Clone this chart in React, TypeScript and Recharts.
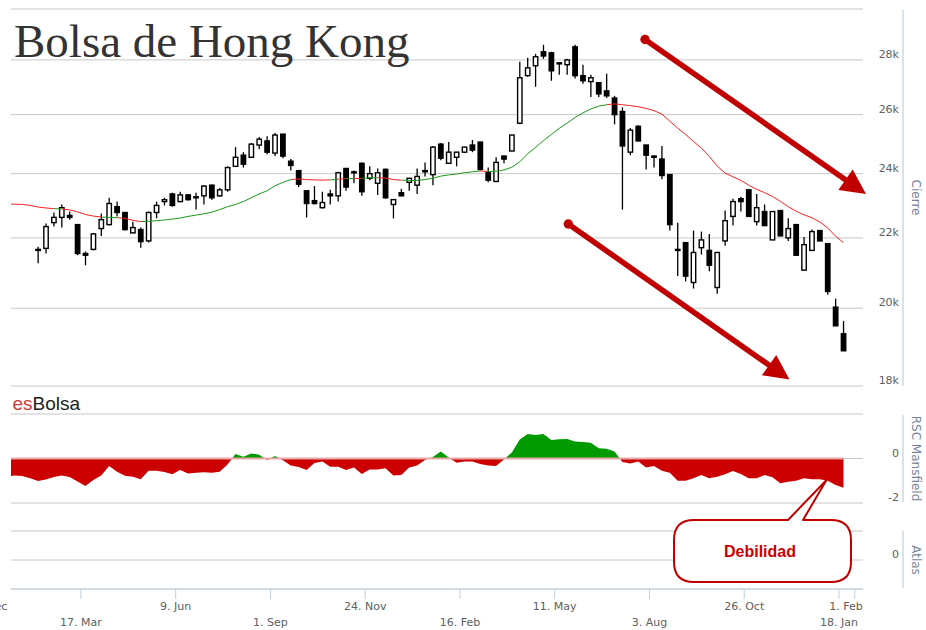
import React from 'react';
import { ComposedChart, Bar, Line, Area, XAxis, YAxis, CartesianGrid, ReferenceLine } from 'recharts';

const DAY = 86400000;
const WEEK = 7 * DAY;

// weekly candles dated on the Friday close; the first one is 7 Feb 2014
const firstCandle = Date.UTC(2014, 1, 7);
// indicator values exist for a few weeks before the first visible candle
const preWeeks = 4;

const opens = [
  21660, 21690, 22460, 22620, 22680, 22400, 21540, 21660, 22280, 22400,
  22950, 22770, 22150, 22250, 21910, 22770, 23110, 23350, 23110, 23320,
  23230, 23290, 23630, 23290, 23480, 24240, 24610, 24540, 24950, 25090,
  24680, 25320, 24410, 24100, 23450, 23140, 22920, 23350, 23290, 24170,
  24060, 24340, 23850, 23690, 24140, 23020, 23390, 23720, 23630, 24060,
  23970, 24980, 24340, 24540, 24710, 24950, 25050, 24030, 23750, 24580,
  24750, 25700, 27410, 27780, 28310, 28270, 27890, 27820, 28500, 27410,
  27190, 27150, 26850, 26590, 26110, 24710, 25590, 24950, 24580, 24480,
  23970, 21660, 21860, 20710, 21710, 21630, 20570, 21910, 22650, 23200,
  23480, 22490, 22800, 21940, 22830, 22000, 22400, 21060, 21630, 22220,
  21830, 20030, 19320,
];
const highs = [
  21740, 22430, 22770, 23020, 22800, 22420, 21600, 22150, 22740, 23230,
  23110, 22780, 22490, 22310, 22800, 23110, 23230, 23390, 23420, 23350,
  23390, 23630, 23640, 23540, 24240, 24880, 24710, 25020, 25220, 25250,
  25360, 25330, 24480, 24110, 23460, 23600, 23420, 23480, 24060, 24180,
  24100, 24370, 24240, 24170, 24170, 23180, 23510, 23860, 24170, 24370,
  24920, 25020, 25050, 24720, 24890, 25120, 25060, 24200, 24540, 24610,
  25300, 27930, 28080, 28230, 28580, 28310, 27900, 28040, 28580, 27820,
  27440, 27160, 27480, 26670, 26260, 25530, 25630, 24960, 24610, 24920,
  23980, 22460, 21870, 22220, 22190, 22120, 21580, 22830, 23200, 23260,
  23490, 23350, 23020, 22810, 22840, 22590, 22410, 22030, 22250, 22230,
  21840, 20260, 19660,
];
const lows = [
  21260, 21540, 22340, 22310, 22550, 21490, 21200, 21630, 22060, 22370,
  22650, 22220, 22140, 21710, 21860, 22590, 22990, 22950, 23090, 23140,
  22860, 23020, 23170, 23260, 23420, 24220, 24200, 24530, 24810, 24640,
  24580, 24510, 24100, 23570, 22620, 23020, 22890, 23020, 23110, 23450,
  23690, 23290, 23790, 23320, 23200, 22590, 23280, 23450, 23350, 23910,
  23630, 24440, 24330, 24240, 24680, 24710, 24100, 23720, 23720, 24340,
  24740, 25660, 27370, 27000, 28040, 27220, 27440, 27440, 27300, 27110,
  26630, 26630, 26590, 25660, 22860, 24610, 25080, 24140, 24200, 23820,
  22220, 20890, 20740, 20540, 21510, 21030, 20400, 21770, 22370, 22800,
  22640, 22370, 22360, 21940, 22060, 21910, 21480, 21050, 21620, 21910,
  20370, 19530, 18880,
];
const closes = [
  21630, 22340, 22620, 22920, 22620, 21540, 21490, 22120, 22550, 23050,
  22770, 22250, 22310, 21890, 22770, 22990, 23170, 22990, 23320, 23170,
  23260, 23600, 23230, 23480, 24200, 24540, 24310, 24980, 25150, 24710,
  25290, 24580, 24270, 23660, 23050, 23050, 23080, 23290, 24030, 23570,
  24030, 23420, 24000, 24030, 23230, 23170, 23290, 23850, 23910, 24100,
  24880, 24510, 24710, 24710, 24880, 24780, 24140, 23790, 24370, 24480,
  25290, 27330, 27700, 28120, 28150, 27590, 27850, 28000, 27410, 27220,
  27330, 26740, 26670, 26000, 24920, 25460, 25090, 24610, 24540, 23940,
  22400, 21630, 20890, 21570, 21940, 21200, 21570, 22520, 23110, 23110,
  22650, 22920, 22370, 22800, 22060, 22280, 21490, 21800, 22190, 21910,
  20460, 19530, 18880,
];

// moving average of the close
const maPre = [23030, 23030, 23020, 22990];
const ma = [
  22940, 22910, 22890, 22880, 22850, 22790, 22710, 22660, 22630, 22620,
  22610, 22590, 22530, 22490, 22500, 22520, 22540, 22570, 22600, 22650,
  22690, 22730, 22780, 22860, 22950, 23020, 23110, 23230, 23350, 23450,
  23610, 23720, 23810, 23830, 23810, 23800, 23790, 23800, 23820, 23840,
  23840, 23850, 23870, 23870, 23860, 23810, 23790, 23780, 23780, 23810,
  23850, 23920, 23960, 23990, 24030, 24060, 24090, 24070, 24080, 24120,
  24210, 24390, 24660, 24870, 25100, 25310, 25520, 25700, 25900, 26060,
  26200, 26300, 26350, 26380, 26350, 26320, 26280, 26220, 26140, 26020,
  25770, 25530, 25310, 25070, 24850, 24570, 24250, 24020, 23900, 23780,
  23630, 23500, 23390, 23270, 23120, 22950, 22810, 22700, 22610, 22480,
  22300, 22050, 21860,
];

// RSC Mansfield
const rscPre = [-0.83, -0.76, -0.79, -0.89];
const rsc = [
  -1.01, -0.94, -0.83, -0.76, -0.83, -1.03, -1.24, -0.97, -0.76, -0.34,
  -0.59, -0.77, -0.82, -0.93, -0.55, -0.55, -0.61, -0.71, -0.52, -0.67,
  -0.64, -0.62, -0.64, -0.59, -0.27, 0.2, 0.08, 0.23, 0.17, -0.07,
  0.11, -0.08, -0.31, -0.38, -0.52, -0.2, -0.13, -0.37, -0.37, -0.52,
  -0.4, -0.7, -0.49, -0.49, -0.44, -0.76, -0.74, -0.4, -0.31, -0.07,
  0.07, 0.31, 0.04, -0.19, -0.14, -0.14, -0.25, -0.31, -0.34, -0.04,
  0.27, 0.85, 1.1, 1.06, 1.1, 0.83, 0.86, 0.88, 0.76, 0.74,
  0.71, 0.46, 0.44, 0.31, -0.16, -0.22, -0.14, -0.4, -0.34, -0.55,
  -0.64, -1.0, -1.0, -0.89, -0.74, -0.89, -0.82, -0.71, -0.56, -0.7,
  -0.89, -0.89, -0.74, -0.84, -1.11, -1.04, -1.0, -0.89, -0.93, -0.93,
  -1.0, -1.19, -1.31,
];

const xTicks = [
  Date.UTC(2013, 11, 23), Date.UTC(2014, 2, 17), Date.UTC(2014, 5, 9), Date.UTC(2014, 8, 1),
  Date.UTC(2014, 10, 24), Date.UTC(2015, 1, 16), Date.UTC(2015, 4, 11), Date.UTC(2015, 7, 3),
  Date.UTC(2015, 9, 26), Date.UTC(2016, 0, 18), Date.UTC(2016, 1, 1),
];
const monthNames = ['Jan', 'Feb', 'Mar', 'Apr', 'May', 'Jun', 'Jul', 'Aug', 'Sep', 'Oct', 'Nov', 'Dec'];
const priceTicks = [18000, 20000, 22000, 24000, 26000, 28000, 30000];
const rscTicks = [-2, 0, 2];
const atlasTicks = [0];
const xDomain = [Date.UTC(2014, 0, 14), Date.UTC(2016, 1, 8, 7)];

const maAll = [...maPre, ...ma];
const rscAll = [...rscPre, ...rsc];
const rows = maAll.map((m, k) => {
  const i = k - preWeeks;
  const row: any = { t: firstCandle + i * WEEK, ma: m, rsc: rscAll[k] };
  if (i >= 0) {
    row.open = opens[i];
    row.high = highs[i];
    row.low = lows[i];
    row.close = closes[i];
    row.range = [lows[i], highs[i]];
  }
  return row;
});

const tFirst = rows[0].t;
const tLast = rows[rows.length - 1].t;
const frac = (t: number) => (t - tFirst) / (tLast - tFirst);
const maStops: any[] = [];
for (let k = 1; k < rows.length; k++) {
  const i = k - preWeeks;
  const above = i >= 0 && closes[i] > ma[i];
  const c = above ? '#1a9a1a' : '#ff2020';
  maStops.push(<stop key={`a${k}`} offset={frac(rows[k - 1].t)} stopColor={c} />);
  maStops.push(<stop key={`b${k}`} offset={frac(rows[k].t)} stopColor={c} />);
}
const rscMax = Math.max(0, ...rscAll);
const rscMin = Math.min(0, ...rscAll);
const rscOff = rscMax / (rscMax - rscMin);

const AXIS_FONT = 'DejaVu Sans, Verdana, sans-serif';

const Candle = (props: any) => {
  const { x, y, width, height, payload } = props;
  if (!payload || payload.open == null) return <g />;
  const cx = x + width / 2;
  const top = Math.min(y, y + height);
  const bot = Math.max(y, y + height);
  const lh = Math.log(payload.high);
  const ll = Math.log(payload.low);
  const span = lh - ll || 1;
  const py = (v: number) => top + ((lh - Math.log(v)) / span) * (bot - top);
  const yo = py(payload.open);
  const yc = py(payload.close);
  const up = payload.close >= payload.open;
  const bTop = Math.min(yo, yc);
  const bh = Math.max(Math.abs(yo - yc), 1);
  return (
    <g>
      <line x1={cx} x2={cx} y1={top} y2={bot} stroke="#000" strokeWidth={1.3} />
      <rect x={cx - 2.2} y={bTop} width={4.4} height={bh} fill={up ? '#fff' : '#000'} stroke="#000" strokeWidth={1.4} />
    </g>
  );
};

const makeYTick = (hidden: number[], fmt: (v: number) => string) => (props: any) => {
  const { x, y, payload } = props;
  if (hidden.includes(payload.value)) return <g />;
  return (
    <text x={x + 36} y={y - 2} textAnchor="end" fontSize={11} fontFamily={AXIS_FONT} fill="#606060">
      {fmt(payload.value)}
    </text>
  );
};
const priceTick = makeYTick([30000], (v) => `${v / 1000}k`);
const rscTick = makeYTick([2], (v) => `${v}`);
const atlasTick = makeYTick([], (v) => `${v}`);

const axisDecor = (title: string, lineTop: number, lineBottom: number) => (props: any) => {
  const vb = props.viewBox || {};
  const { x, y, height } = vb;
  if (x == null) return null;
  const lx = x + 40;
  return (
    <g>
      <line x1={lx} x2={lx} y1={y + lineTop} y2={y + height - lineBottom} stroke="#C0D0E0" strokeWidth={1.2} />
      <text
        transform={`translate(${x + 53}, ${y + height / 2}) rotate(90)`}
        textAnchor="middle"
        dy="0.35em"
        fontSize={12}
        fontFamily={AXIS_FONT}
        fill="#74849a"
      >
        {title}
      </text>
    </g>
  );
};

const XTick = (props: any) => {
  const { x, y, payload } = props;
  const idx = xTicks.indexOf(payload.value);
  const d = new Date(payload.value);
  const label = `${d.getUTCDate()}. ${monthNames[d.getUTCMonth()]}`;
  const upper = idx % 2 === 0;
  const last = idx === xTicks.length - 1;
  return (
    <text
      x={last ? x + 8 : x}
      y={y + (upper ? 10.5 : 27)}
      textAnchor={last ? 'end' : 'middle'}
      fontSize={11}
      fontFamily={AXIS_FONT}
      fill="#606060"
    >
      {label}
    </text>
  );
};

const Arrow = ({ sx, sy, tx, ty }: { sx: number; sy: number; tx: number; ty: number }) => {
  const dx = tx - sx;
  const dy = ty - sy;
  const len = Math.hypot(dx, dy);
  const ux = dx / len;
  const uy = dy / len;
  const hl = 25;
  const hw = 12.5;
  const bx = tx - ux * hl;
  const by = ty - uy * hl;
  const px = -uy;
  const py = ux;
  return (
    <g>
      <line x1={sx} y1={sy} x2={bx + ux * 3} y2={by + uy * 3} stroke="#C00000" strokeWidth={5.5} />
      <circle cx={sx} cy={sy} r={4.7} fill="#C00000" />
      <polygon points={`${tx},${ty} ${bx + px * hw},${by + py * hw} ${bx - px * hw},${by - py * hw}`} fill="#C00000" />
    </g>
  );
};

const margins = { right: 0, left: 11 };

export default function App() {
  return (
    <div style={{ position: 'absolute', left: 0, top: 0, width: 926, height: 630, background: '#fff', overflow: 'hidden' }}>
      <svg width={0} height={0} style={{ position: 'absolute' }}>
        <defs>
          <linearGradient id="maGrad" x1="0" y1="0" x2="1" y2="0">
            {maStops}
          </linearGradient>
          <linearGradient id="rscGrad" x1="0" y1="0" x2="0" y2="1">
            <stop offset={rscOff} stopColor="#009900" />
            <stop offset={rscOff} stopColor="#CC0000" />
          </linearGradient>
        </defs>
      </svg>

      <div style={{ position: 'absolute', left: 0, top: 0 }}>
        <ComposedChart width={926} height={400} data={rows} margin={{ top: 9, bottom: 14, ...margins }}>
          <CartesianGrid vertical={false} stroke="#C8C8C8" yAxisId="p" />
          <XAxis dataKey="t" type="number" domain={xDomain} allowDataOverflow hide />
          <YAxis
            yAxisId="p"
            orientation="right"
            scale="log"
            domain={[18000, 30000]}
            ticks={priceTicks}
            interval={0}
            allowDataOverflow
            width={63}
            axisLine={false}
            tickLine={false}
            tickSize={0}
            tickMargin={0}
            tick={priceTick}
            label={axisDecor('Cierre', 1, 0)}
          />
          <Bar yAxisId="p" dataKey="range" barSize={6} shape={Candle} isAnimationActive={false} />
          <Line
            yAxisId="p"
            dataKey="ma"
            type="linear"
            stroke="url(#maGrad)"
            strokeWidth={1}
            dot={false}
            activeDot={false}
            isAnimationActive={false}
          />
        </ComposedChart>
      </div>

      <div style={{ position: 'absolute', left: 0, top: 400 }}>
        <ComposedChart width={926} height={110} data={rows} margin={{ top: 14, bottom: 7, ...margins }}>
          <CartesianGrid vertical={false} stroke="#C8C8C8" yAxisId="r" />
          <XAxis dataKey="t" type="number" domain={xDomain} allowDataOverflow hide />
          <YAxis
            yAxisId="r"
            orientation="right"
            domain={[-2, 2]}
            ticks={rscTicks}
            interval={0}
            allowDataOverflow
            width={63}
            axisLine={false}
            tickLine={false}
            tickSize={0}
            tickMargin={0}
            tick={rscTick}
            label={axisDecor('RSC Mansfield', 1, 1)}
          />
          <Area
            yAxisId="r"
            dataKey="rsc"
            type="linear"
            baseValue={0}
            fill="url(#rscGrad)"
            fillOpacity={1}
            stroke="none"
            dot={false}
            activeDot={false}
            isAnimationActive={false}
          />
          <ReferenceLine
            yAxisId="r"
            segment={[{ x: tFirst, y: 0 }, { x: tLast, y: 0 }]}
            stroke="#E8A8A8"
            strokeWidth={2}
            ifOverflow="hidden"
          />
        </ComposedChart>
      </div>

      <div style={{ position: 'absolute', left: 0, top: 510 }}>
        <ComposedChart width={926} height={120} data={rows} margin={{ top: 21, bottom: 0, ...margins }}>
          <CartesianGrid vertical={false} stroke="#C8C8C8" yAxisId="a" />
          <XAxis
            dataKey="t"
            type="number"
            domain={xDomain}
            allowDataOverflow
            ticks={xTicks}
            interval={0}
            height={41}
            axisLine={{ stroke: '#C0D0E0' }}
            tickLine={{ stroke: '#C0D0E0' }}
            tickSize={10}
            tickMargin={0}
            tick={XTick}
          />
          <YAxis
            yAxisId="a"
            orientation="right"
            domain={[-1, 1]}
            ticks={atlasTicks}
            interval={0}
            allowDataOverflow
            width={63}
            axisLine={false}
            tickLine={false}
            tickSize={0}
            tickMargin={0}
            tick={atlasTick}
            label={axisDecor('Atlas', 0, 1)}
          />
        </ComposedChart>
      </div>

      <svg width={926} height={630} style={{ position: 'absolute', left: 0, top: 0, pointerEvents: 'none' }}>
        <text x={14} y={57} fontFamily="Liberation Serif, Times New Roman, serif" fontSize={47} fill="#333">
          Bolsa de Hong Kong
        </text>
        <text x={12.5} y={409.5} fontFamily="Liberation Sans, Arial, sans-serif" fontSize={19}>
          <tspan fill="#D03A3A">es</tspan>
          <tspan fill="#222">Bolsa</tspan>
        </text>
        <Arrow sx={645} sy={39.5} tx={866} ty={194} />
        <Arrow sx={568.3} sy={224} tx={789.5} ty={379.5} />
        <path
          d="M694,520 L788,520 L826.5,480 L803,520 L831,520 Q851,520 851,540 L851,562 Q851,582 831,582 L694,582 Q674,582 674,562 L674,540 Q674,520 694,520 Z"
          fill="#fff"
          stroke="#C00000"
          strokeWidth={2}
          strokeLinejoin="round"
        />
        <text x={760} y={557} textAnchor="middle" fontFamily="Liberation Sans, Arial, sans-serif" fontWeight="bold" fontSize={16} fill="#CC0000">
          Debilidad
        </text>
      </svg>
    </div>
  );
}
